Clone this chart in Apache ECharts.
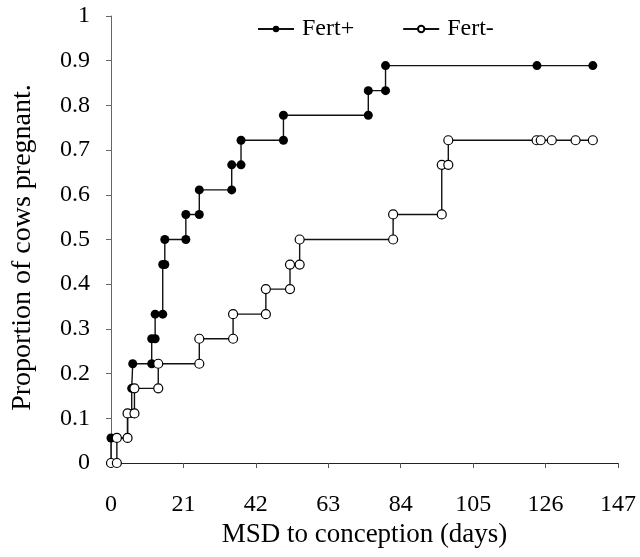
<!DOCTYPE html>
<html>
<head>
<meta charset="utf-8">
<script src="https://cdn.jsdelivr.net/npm/echarts@6/dist/echarts.min.js"></script>
<style>html,body{margin:0;padding:0;background:#fff}#c{width:640px;height:557px}</style>
</head>
<body>
<div id="c"></div>
<script>
const xTicks = [0, 21, 42, 63, 84, 105, 126, 147];
const fertPlusDays = [0,0,4.8,4.8,6,6,6.3,6.3,11.8,11.8,12.8,12.8,15,15,15.6,15.6,21.7,21.7,25.6,25.6,35,35,37.7,37.7,50,50,74.6,74.6,79.6,79.6,123.5,139.7];
const fertPlusProp = [0,0.056,0.056,0.111,0.111,0.167,0.167,0.222,0.222,0.278,0.278,0.333,0.333,0.444,0.444,0.5,0.5,0.556,0.556,0.611,0.611,0.667,0.667,0.722,0.722,0.778,0.778,0.833,0.833,0.889,0.889,0.889];
const fertMinusDays = [0,1.7,1.7,4.8,4.8,6.8,6.8,13.7,13.7,25.6,25.6,35.4,35.4,44.9,44.9,51.9,51.9,54.7,54.7,81.8,81.8,95.9,95.9,97.8,97.8,123.4,124.6,127.8,134.7,139.7];
const fertMinusProp = [0,0,0.056,0.056,0.111,0.111,0.167,0.167,0.222,0.222,0.278,0.278,0.333,0.333,0.389,0.389,0.444,0.444,0.5,0.5,0.556,0.556,0.667,0.667,0.722,0.722,0.722,0.722,0.722,0.722];

const font = 'Liberation Serif';
const zip = (a, b) => a.map((v, i) => [v, b[i]]);
const chart = echarts.init(document.getElementById('c'));
chart.setOption({
  animation: false,
  backgroundColor: '#fff',
  textStyle: { fontFamily: font },
  grid: { left: 111, right: 22, top: 16, bottom: 94, containLabel: false },
  legend: {
    left: 257, top: 16, padding: 0,
    itemWidth: 36, itemHeight: 8, itemGap: 48,
    textStyle: { fontFamily: font, fontSize: 24, color: '#000', lineHeight: 26, padding: [0,0,0,3] },
    data: ['Fert+', 'Fert-']
  },
  xAxis: {
    type: 'value', min: 0, max: 147, interval: 21,
    name: 'MSD to conception (days)', nameLocation: 'middle', nameGap: 50,
    nameTextStyle: { fontFamily: font, fontSize: 27, color: '#000' },
    axisLine: { show: true, lineStyle: { color: '#222', width: 1 } },
    axisTick: { show: true, length: 5, lineStyle: { color: '#555' } },
    axisLabel: { margin: 30, fontFamily: font, fontSize: 24, color: '#000',
      formatter: v => xTicks.includes(v) ? String(v) : '' },
    splitLine: { show: false }
  },
  yAxis: {
    type: 'value', min: 0, max: 1, interval: 0.1,
    name: 'Proportion of cows pregnant.', nameLocation: 'middle', nameGap: 74, nameRotate: 90,
    nameTextStyle: { fontFamily: font, fontSize: 28, color: '#000', padding: [0,16,0,0] },
    axisLine: { show: true, lineStyle: { color: '#666', width: 1 } },
    axisTick: { show: true, length: 5, lineStyle: { color: '#666' } },
    axisLabel: { margin: 21, fontFamily: font, fontSize: 24, color: '#000', padding: [8,0,0,0] },
    splitLine: { show: false }
  },
  series: [
    {
      name: 'Fert+', type: 'line', data: zip(fertPlusDays, fertPlusProp),
      symbol: 'circle', symbolSize: 9, showAllSymbol: true,
      lineStyle: { color: '#111', width: 1.4 },
      itemStyle: { color: '#000', borderColor: '#000', borderWidth: 0 }
    },
    {
      name: 'Fert-', type: 'line', data: zip(fertMinusDays, fertMinusProp),
      symbol: 'circle', symbolSize: 9, showAllSymbol: true,
      lineStyle: { color: '#111', width: 1.4 },
      itemStyle: { color: '#fff', borderColor: '#000', borderWidth: 1.2 }
    }
  ]
});
</script>
</body>
</html>
